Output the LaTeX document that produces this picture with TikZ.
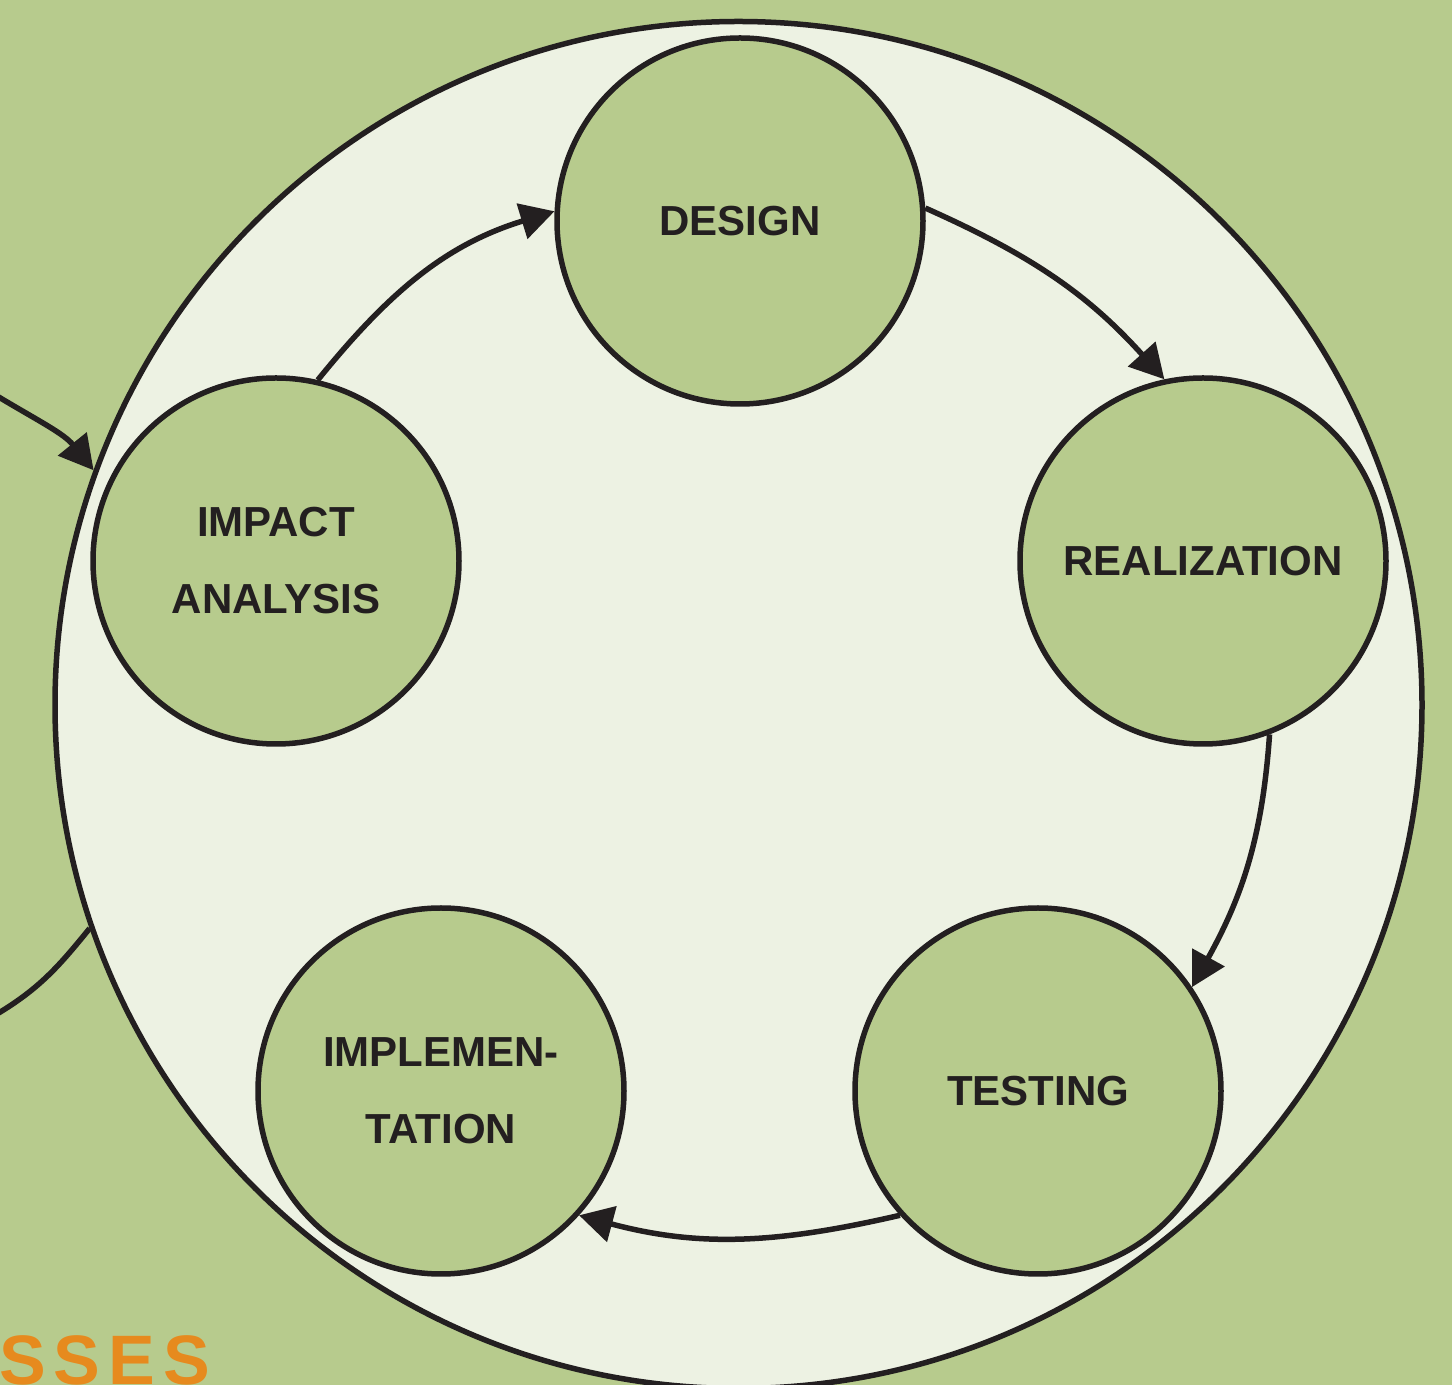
\documentclass[tikz,border=0pt]{standalone}
\usepackage{fontspec}
\setmainfont{Liberation Sans}
\usetikzlibrary{arrows.meta}
\definecolor{bggreen}{HTML}{B7CB8D}
\definecolor{lightfill}{HTML}{EDF2E3}
\definecolor{ink}{HTML}{231F20}
\definecolor{orangetxt}{HTML}{E68A1E}
\tikzset{
  stage/.style={circle, draw=ink, fill=bggreen, line width=5.5pt, minimum size=366pt,
    inner sep=0pt, align=center, text=ink, font=\fontsize{42}{77}\selectfont\bfseries},
  bigring/.style={circle, draw=ink, fill=lightfill, line width=5.5pt, minimum size=1367pt, inner sep=0pt},
  flow/.style={draw=ink, line width=5.5pt, -{Triangle[length=34pt,width=36pt]}},
  plainline/.style={draw=ink, line width=5.5pt},
}
\begin{document}
\begin{tikzpicture}[x=1pt,y=1pt]
\useasboundingbox (0,0) rectangle (1452,1385);
\clip (0,0) rectangle (1452,1385);
\fill[bggreen] (0,0) rectangle (1452,1385);

\node[bigring] (ring) at (738.5,680) {};

\node[stage] (des) at (740,1164) {DESIGN};
\node[stage] (imp) at (276,824) {IMPACT\\ANALYSIS};
\node[stage] (rea) at (1203,824) {REALIZATION};
\node[stage] (imn) at (441,294) {IMPLEMEN-\\TATION};
\node[stage] (tes) at (1038,294) {TESTING};

\draw[flow] (imp.77) to[out=51,in=197] (des.177);
\draw[flow] (des.4) to[out=-24,in=132] (rea.102);
\draw[flow] (rea.-69) to[out=-94,in=61] (tes.34);
\draw[flow] (tes.222) to[out=193,in=-15] (imn.-42);

\coordinate (ext1) at (-3,989);
\coordinate (ext2) at (-3,371);
\draw[flow] (ext1) to[out=-31,in=129] (ring.160.6);
\draw[plainline] (ext2) to[out=31,in=-129] (ring.199.4);

\node[anchor=base west, inner sep=0pt, text=orangetxt, font=\fontsize{70}{70}\selectfont\bfseries]
  (sses) at (-1,1) {S\kern8pt S\kern8pt E\kern8pt S};
\end{tikzpicture}
\end{document}
